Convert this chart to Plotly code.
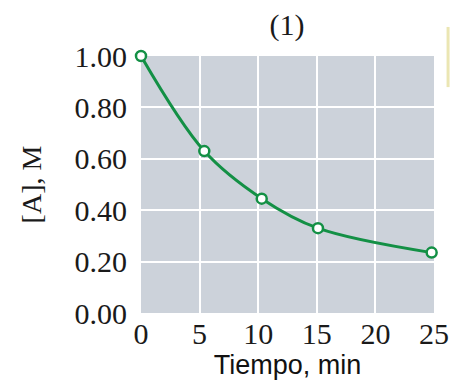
import plotly.graph_objects as go

tiempo = [0, 5.4, 10.3, 15.1, 24.8]
conc = [1.00, 0.63, 0.445, 0.33, 0.235]
x_ticks = [0, 5, 10, 15, 20, 25]
y_ticks = [0.0, 0.2, 0.4, 0.6, 0.8, 1.0]
y_labels = ["0.00", "0.20", "0.40", "0.60", "0.80", "1.00"]

serif = "Liberation Serif, Times New Roman, serif"
green = "#139045"

fig = go.Figure()
fig.add_trace(go.Scatter(
    x=tiempo, y=conc, mode="lines+markers",
    line=dict(color=green, width=3, shape="spline", smoothing=1.0),
    marker=dict(size=10, color="white", line=dict(color=green, width=2.5)),
    cliponaxis=False, showlegend=False,
))

fig.update_layout(
    width=450, height=381,
    margin=dict(l=141, r=16, t=56, b=68),
    paper_bgcolor="white", plot_bgcolor="#ccd2da",
    title=dict(text="(1)", x=0.638, xanchor="center", y=0.935, yanchor="middle",
               font=dict(family=serif, size=30, color="#1a1a1a")),
    font=dict(family=serif, size=30, color="#1a1a1a"),
    shapes=[dict(type="line", xref="paper", yref="paper", x0=1.048, x1=1.048,
                 y0=1.113, y1=0.879, line=dict(color="#ebe6b3", width=3))],
)
fig.update_xaxes(
    range=[0, 25], tickvals=x_ticks, ticks="", showgrid=True, automargin=False,
    gridcolor="white", gridwidth=2, zeroline=False, showline=False,
    tickfont=dict(family=serif, size=30), ticklabelstandoff=0,
    title=dict(text="Tiempo, min", standoff=6,
               font=dict(family="Liberation Sans, Arial, sans-serif", size=27, color="#111")),
)
fig.update_yaxes(
    range=[0, 1.0], tickvals=y_ticks, ticktext=y_labels, ticks="", showgrid=True, automargin=False,
    gridcolor="white", gridwidth=2, zeroline=False, showline=False,
    tickfont=dict(family=serif, size=30), ticklabelstandoff=13,
    title=dict(text="[A], M", standoff=24, font=dict(family=serif, size=28, color="#1a1a1a")),
)

# page body has a default 8px margin; remove it so the figure fills the window
fig.write_html("out.html", config={"displayModeBar": False},
               post_script="document.body.style.margin='0px';")
